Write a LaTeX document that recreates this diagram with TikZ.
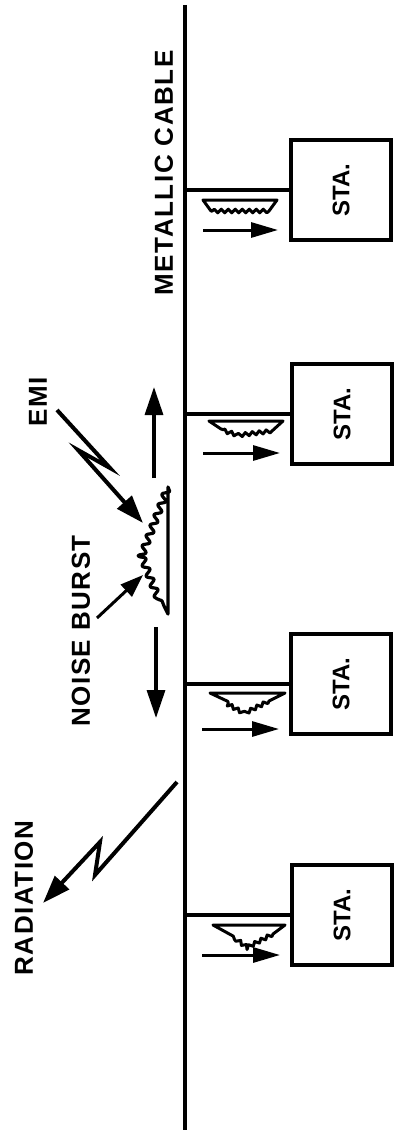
\documentclass[tikz,border=0pt]{standalone}
\usepackage{fontspec}
\setmainfont{Liberation Sans}
\usepackage{graphicx}
\usetikzlibrary{arrows.meta, decorations.pathmorphing}

\begin{document}
\begin{tikzpicture}[
  x=1pt, y=-1pt,
  line width=3.3pt,
  rottext/.style={rotate=90, inner sep=0pt, font=\bfseries\fontsize{26}{26}\selectfont\addfontfeature{LetterSpace=6}},
  stabox/.style={draw, line width=3.3pt, minimum width=100pt, minimum height=100pt, inner sep=0pt, font=\bfseries\fontsize{24}{24}\selectfont},
  sigarrow/.style={line width=3pt, -{Triangle[length=27pt, width=15pt]}},
  prop/.style={line width=3.3pt, -{Triangle[length=28pt, width=18pt]}},
  bolt/.style={line width=4pt, line join=miter, -{Triangle[length=28pt, width=19pt]}},
  echo/.style={line width=3pt, line join=round, decoration={snake, amplitude=1.8pt, segment length=7pt}},
  burst/.style={line width=3.2pt, line join=round, decoration={snake, amplitude=3.2pt, segment length=11pt}}
]
\useasboundingbox (0,0) rectangle (395,1134);

% cable
\coordinate (top) at (185,5);
\coordinate (bot) at (185,1130);
\draw (top) -- (bot);
\node[rottext] (cable) at (164,173) {METALLIC CABLE};

% stations
\node[stabox] (sta1) at (341,190) {\rotatebox{90}{STA.}};
\node[stabox] (sta2) at (342,414) {\rotatebox{90}{STA.}};
\node[stabox] (sta3) at (341,684) {\rotatebox{90}{STA.}};
\node[stabox] (sta4) at (342,915) {\rotatebox{90}{STA.}};

\coordinate (tap1) at (185,190);
\coordinate (tap2) at (185,414);
\coordinate (tap3) at (185,684);
\coordinate (tap4) at (185,915);

\draw (tap1) -- (sta1.west);
\draw (tap2) -- (sta2.west);
\draw (tap3) -- (sta3.west);
\draw (tap4) -- (sta4.west);

% received signals
\begin{scope}[shift={(tap1)}]
  \draw[echo] (18,10) -- (92,10) -- (84,21) decorate{-- (26,21)} -- cycle;
  \draw[sigarrow] (18,40) -- (93,40);
\end{scope}
\begin{scope}[shift={(tap2)}]
  \draw[echo] (24,7) -- (98,7) -- (87,17) decorate{-- (55,21) -- (36,15)} -- cycle;
  \draw[sigarrow] (18,39) -- (95,39);
\end{scope}
\begin{scope}[shift={(tap3)}]
  \draw[echo] (25,9) -- (100,9) -- (84,17) decorate{-- (62,28) -- (42,17)} -- cycle;
  \draw[sigarrow] (17,45) -- (94,45);
\end{scope}
\begin{scope}[shift={(tap4)}]
  \draw[echo] (28,10) -- (100,10) -- (88,19) decorate{-- (63,32) -- (48,21)} -- cycle;
  \draw[sigarrow] (17,40) -- (95,40);
\end{scope}

% noise burst on the cable
\draw[burst] (168,487) decorate{-- (143,552) -- (164,606)} -- (168,614) -- cycle;
\draw[prop] (154,478) -- (154,387);
\draw[prop] (156,627) -- (156,718);

\node[rottext] (noise) at (81,631) {NOISE BURST};
\coordinate (noisetip) at (143,575);
\draw[line width=3pt, -{Triangle[length=23pt, width=16pt]}] (97,618) -- (noisetip);

% EMI
\node[rottext] (emi) at (38,402) {EMI};
\coordinate (emitail) at (57,410);
\coordinate (emitip) at (143,523);
\draw[bolt] (emitail) -- (110,468) -- (78,450) -- (emitip);

% radiation
\node[rottext] (rad) at (24,898) {RADIATION};
\coordinate (radtail) at (177,782);
\coordinate (radtip) at (43,903);
\draw[bolt] (radtail) -- (95,875) -- (100,842) -- (radtip);

\end{tikzpicture}
\end{document}
